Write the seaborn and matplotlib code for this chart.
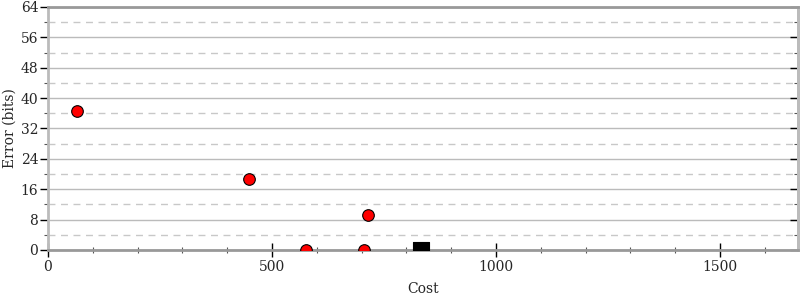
import matplotlib
matplotlib.use("Agg")
import matplotlib.pyplot as plt
import seaborn as sns
import pandas as pd
import numpy as np
from matplotlib.ticker import MultipleLocator, NullFormatter

sns.set_style("white")
plt.rcParams['font.family'] = ['DejaVu Serif']

circle_cost = [65, 448, 576, 705, 714]
circle_error = [36.6, 18.7, 0.0, 0.0, 9.2]
square_cost = [833]
square_error = [0.0]
x_ticks = [0, 500, 1000, 1500]
y_ticks = [0, 8, 16, 24, 32, 40, 48, 56, 64]

df_c = pd.DataFrame({"Cost": circle_cost, "Error": circle_error})
df_s = pd.DataFrame({"Cost": square_cost, "Error": square_error})

fig = plt.figure(figsize=(8, 3), dpi=100)
ax = fig.add_axes([0.06, 0.1667, 0.9375, 0.81])

ax.set_xlim(0, 1674)
ax.set_ylim(0, 64)

for y in y_ticks:
    ax.axhline(y, color="#bbbbbb", lw=1, zorder=0)
for y in np.arange(4, 64, 8):
    ax.axhline(y, color="#c8c8c8", lw=1, ls=(0, (5, 4)), zorder=0)

sns.scatterplot(data=df_c, x="Cost", y="Error", ax=ax, color="red",
                edgecolor="black", linewidth=0.8, s=70, marker="o", zorder=3, clip_on=True)
sns.scatterplot(data=df_s, x="Cost", y="Error", ax=ax, color="black",
                edgecolor="black", linewidth=0.8, s=130, marker="s", zorder=3, clip_on=True)

ax.set_xticks(x_ticks)
ax.set_yticks(y_ticks)
ax.xaxis.set_minor_locator(MultipleLocator(100))
ax.yaxis.set_minor_locator(MultipleLocator(4))
ax.tick_params(axis="x", which="major", bottom=True, direction="inout", length=10, width=1,
               color="black", labelsize=10, pad=2)
ax.tick_params(axis="x", which="minor", bottom=True, direction="inout", length=5, width=0.8, color="#555555")
ax.tick_params(axis="y", which="major", left=True, right=False, direction="out", length=6, width=1,
               color="black", labelsize=10, pad=1)
ax.tick_params(axis="y", which="minor", left=True, right=False, direction="out", length=3, width=0.8,
               color="#555555")

sec = ax.secondary_yaxis("right")
sec.set_yticks(y_ticks)
sec.yaxis.set_minor_locator(MultipleLocator(4))
sec.yaxis.set_major_formatter(NullFormatter())
sec.tick_params(axis="y", which="major", right=True, direction="in", length=6, width=1, color="black")
sec.tick_params(axis="y", which="minor", right=True, direction="in", length=3, width=0.8, color="#555555")
sec.spines["right"].set_color("#bbbbbb")
sec.spines["right"].set_linewidth(2)

for s in ["left", "right"]:
    ax.spines[s].set_color("#bbbbbb")
    ax.spines[s].set_linewidth(2)
for s in ["top", "bottom"]:
    ax.spines[s].set_color("#999999")
    ax.spines[s].set_linewidth(2)

ax.set_xlabel("Cost", fontsize=10, labelpad=6)
ax.set_ylabel("Error (bits)", fontsize=10, labelpad=3)

fig.savefig("out.png", dpi=100)
